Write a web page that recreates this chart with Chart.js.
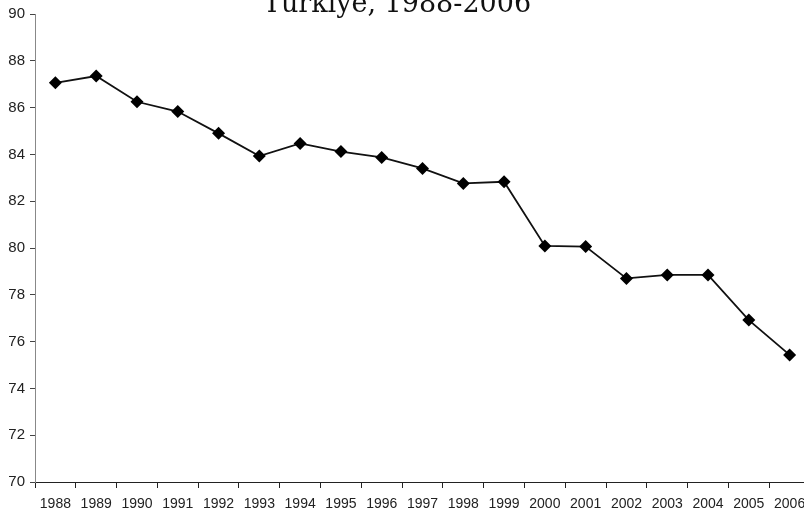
<!DOCTYPE html>
<html>
<head>
<meta charset="utf-8">
<script src="https://cdn.jsdelivr.net/npm/chart.js@4/dist/chart.umd.min.js"></script>
<style>
  html, body { margin: 0; padding: 0; background: #fff; overflow: hidden; }
  #wrap { position: relative; width: 804px; height: 517px; overflow: hidden; }
  #myChart { position: absolute; left: -16px; top: -11px; }
</style>
</head>
<body>
<div id="wrap"><canvas id="myChart" width="846" height="523"></canvas></div>
<script>
const titleText = "Türkiye, 1988-2006";
const years = ["1988", "1989", "1990", "1991", "1992", "1993", "1994", "1995", "1996", "1997",
  "1998", "1999", "2000", "2001", "2002", "2003", "2004", "2005", "2006"];
const values = [87.06, 87.35, 86.25, 85.83, 84.9, 83.93, 84.47, 84.12, 83.87, 83.4,
  82.76, 82.83, 80.09, 80.06, 78.7, 78.85, 78.85, 76.92, 75.43];
const yMin = 70;
const yMax = 90;
const yStep = 2;

const ctx = document.getElementById("myChart");

// canvas sits a bit off the window so the title is cut at the top like the source
const chart = new Chart(ctx, {
  type: "line",
  data: {
    labels: years,
    datasets: [
      {
        data: values,
        borderColor: "#111",
        borderWidth: 1.8,
        backgroundColor: "#000",
        pointStyle: "rectRot",
        pointRadius: 6.5,
        pointBorderWidth: 0,
        tension: 0,
      },
    ],
  },
  options: {
    responsive: false,
    devicePixelRatio: 1,
    animation: false,
    layout: { padding: { left: 0, right: 20, top: 0, bottom: 0 } },
    plugins: {
      legend: { display: false },
      tooltip: { enabled: false },
      title: {
        display: true,
        text: titleText,
        color: "#111",
        font: { family: "DejaVu Serif", size: 27, weight: "normal", lineHeight: 1.2 },
        padding: { top: 0, bottom: -7.4 },
      },
    },
    scales: {
      x: {
        offset: true,
        grid: {
          offset: true,
          drawOnChartArea: false,
          drawTicks: true,
          tickLength: 6,
          color: "#222",
        },
        border: { color: "#222", width: 1 },
        ticks: {
          color: "#222",
          padding: 8,
          maxRotation: 0,
          autoSkip: false,
          font: { family: "Liberation Sans", size: 14 },
        },
        afterFit: (scale) => { scale.height = 30; },
      },
      y: {
        min: yMin,
        max: yMax,
        ticks: {
          stepSize: yStep,
          color: "#222",
          padding: 5,
          font: { family: "Liberation Sans", size: 15 },
        },
        grid: {
          drawOnChartArea: false,
          drawTicks: true,
          tickLength: 5,
          color: "#444",
        },
        border: { color: "#888", width: 1 },
        afterFit: (scale) => { scale.width = 51; },
      },
    },
  },
});
</script>
</body>
</html>
